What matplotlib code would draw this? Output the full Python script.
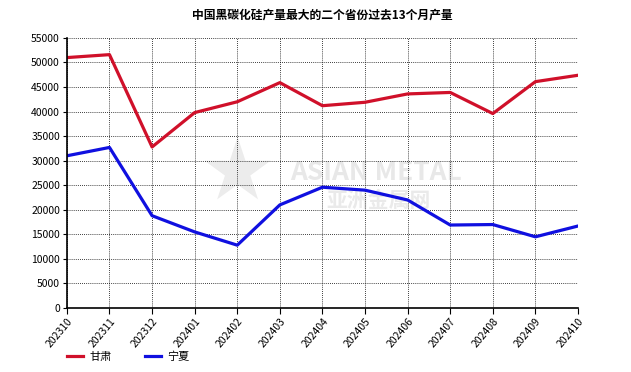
import matplotlib
matplotlib.use("Agg")
import matplotlib.pyplot as plt

plt.rcParams['font.family'] = ['Noto Sans CJK SC', 'DejaVu Sans']

months = ["202310", "202311", "202312", "202401", "202402", "202403", "202404",
          "202405", "202406", "202407", "202408", "202409", "202410"]
gansu = [51000, 51600, 32800, 39800, 42000, 45900, 41200,
         41900, 43600, 43900, 39600, 46100, 47400]
ningxia = [31000, 32700, 18800, 15500, 12800, 21000, 24600,
           24000, 22000, 16900, 17000, 14500, 16700]

fig = plt.figure(figsize=(6.31, 3.72), dpi=100)
ax = fig.add_axes([0.106, 0.172, 0.810, 0.726])

# watermark (behind grid)
fig.text(0.376, 0.53, "★", fontsize=62, color="#ececec", family="DejaVu Sans",
         ha="center", va="center", zorder=-1)
fig.text(0.596, 0.537, "ASIAN METAL", fontsize=19, fontweight="bold", color="#e8e8e8",
         ha="center", va="center", zorder=-1)
fig.text(0.60, 0.462, "亚洲金属网", fontsize=15, fontweight="bold", color="#eaeaea",
         ha="center", va="center", zorder=-1)
ax.patch.set_alpha(0)

x = list(range(len(months)))
ax.plot(x, gansu, color="#d0102a", lw=2.3, solid_joinstyle="round", label="甘肃")
ax.plot(x, ningxia, color="#1010e0", lw=2.3, solid_joinstyle="round", label="宁夏")

ax.set_xlim(0, len(months) - 1)
ax.set_ylim(0, 55000)
ax.set_yticks(range(0, 55001, 5000))
ax.set_xticks(x)
ax.set_xticklabels(months, rotation=50, ha="right", rotation_mode="anchor", fontsize=7.5)
ax.tick_params(axis="y", labelsize=7.5, length=3, pad=2)
ax.tick_params(axis="x", length=4, pad=2)
ax.grid(True, color="black", linestyle=(0, (1, 1.5)), linewidth=0.6)
ax.set_axisbelow(True)
for s in ["top", "right"]:
    ax.spines[s].set_visible(False)
ax.spines["left"].set_linewidth(1.2)
ax.spines["bottom"].set_linewidth(1.2)

ax.set_title("中国黑碳化硅产量最大的二个省份过去13个月产量", fontsize=8.5,
             fontweight="bold", pad=14)

fig.legend(loc="lower left", bbox_to_anchor=(0.09, 0.0), ncol=2, frameon=False,
           fontsize=8, handlelength=1.5, columnspacing=3.0, handletextpad=0.5)

fig.savefig("out.png", dpi=100)
